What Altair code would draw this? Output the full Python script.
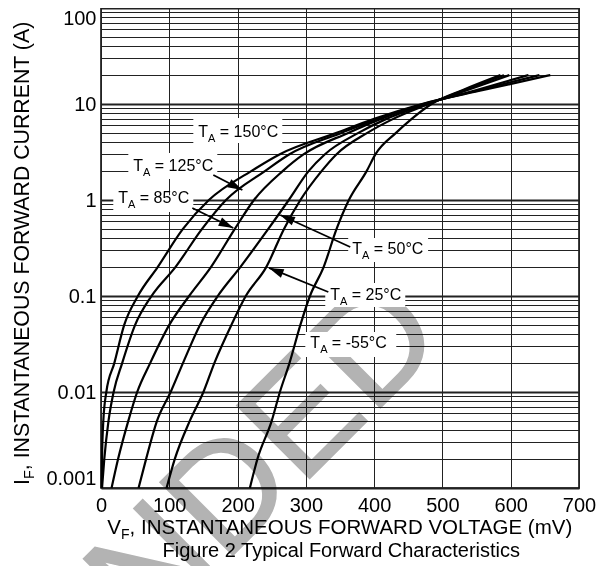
import math
import altair as alt
import pandas as pd

FONT = "Liberation Sans"
W, H = 478, 480

# ---- curve data: forward voltage (mV) read at these currents (A) ----
current = [0.001, 0.002, 0.005, 0.01, 0.02, 0.05, 0.1, 0.2, 0.5, 1, 2, 3, 5, 7, 10, 14, 20]
v_150 = [1, 1.5, 3.4, 7.8, 19.5, 34, 54, 83, 120, 158, 220, 262, 345, 400, 470, 560, 658]
v_125 = [1.5, 4.8, 11, 18.5, 31, 50, 74, 109, 148, 183, 240, 276, 352, 405, 472, 555, 642]
v_85 = [15.5, 25, 40, 53, 72, 100, 129, 161, 196, 224, 266, 297, 362, 410, 475, 550, 626]
v_50 = [55, 66, 82, 102, 120, 145, 171, 204, 245, 275, 304, 328, 377, 418, 478, 537, 598]
v_25 = [96, 108, 130, 150, 166, 191, 212, 242, 268, 292, 323, 345, 390, 428, 480, 532, 590]
v_m55 = [218, 229, 250, 262, 276, 292, 306, 326, 345, 363, 389, 402, 432, 455, 484, 530, 585]
series_names = ["150", "125", "85", "50", "25", "-55"]
series_values = [v_150, v_125, v_85, v_50, v_25, v_m55]

# ---- axes ----
x_ticks = [0, 100, 200, 300, 400, 500, 600, 700]
y_decades = [0.001, 0.01, 0.1, 1, 10, 100]
y_labels = ["0.001", "0.01", "0.1", "1", "10", "100"]
y_grid = sorted(set([round(m * d, 6) for d in y_decades[:-1] for m in range(1, 10)] + [100]))

# ---- labels T_A = ... ----
lab_text = ["= 150°C", "= 125°C", "= 85°C", "= 50°C", "= 25°C", "= -55°C"]
lab_v = [142.5, 47.3, 25.3, 368, 335.7, 306.6]
lab_i = [4.53, 2.00, 0.925, 0.274, 0.0908, 0.0287]
box_v1 = [135.2, 40.0, 18.0, 362, 328.4, 299.2]
box_v2 = [265.5, 170.3, 135.2, 479, 445.6, 432.4]
box_i1 = [7.15, 3.09, 1.12, 0.402, 0.1365, 0.0422]
box_i2 = [3.93, 1.65, 0.75, 0.226, 0.0767, 0.0232]
# arrows (125, 85, 50, 25)
arr_from_v = [164.5, 133.7, 365, 332.9]
arr_from_i = [1.82, 0.826, 0.324, 0.110]
arr_to_v = [207, 193.7, 262.5, 246]
arr_to_i = [1.27, 0.511, 0.698, 0.196]

# watermark
wm_text = ["RECOMMENDED"]
wm_v = [508.6]
wm_i = [0.0348]

# ---- build tables ----
rows = []
for name, vs in zip(series_names, series_values):
    for i, v in zip(current, vs):
        rows.append({"series": name, "v": v, "i": i})
curves = pd.DataFrame(rows)

labels = pd.DataFrame({"v": lab_v, "i": lab_i, "rest": lab_text})
boxes = pd.DataFrame({"v1": box_v1, "v2": box_v2, "i1": box_i1, "i2": box_i2})

px_mv = W / 700.0
px_dec = H / 5.0
angles = []
for fv, fi, tv, ti in zip(arr_from_v, arr_from_i, arr_to_v, arr_to_i):
    dx = (tv - fv) * px_mv
    dy = -(math.log10(ti) - math.log10(fi)) * px_dec
    angles.append(math.degrees(math.atan2(dx, -dy)) % 360)
arrows = pd.DataFrame({"v": arr_from_v, "i": arr_from_i, "v2": arr_to_v, "i2": arr_to_i})
heads = pd.DataFrame({"v": arr_to_v, "i": arr_to_i, "ang": angles})
wm = pd.DataFrame({"v": wm_v, "i": wm_i, "t": wm_text})

decade_test = " || ".join(f"datum.value == {d}" for d in y_decades)
label_expr = " : ".join(f"datum.value == {d} ? '{s}'" for d, s in zip(y_decades, y_labels)) + " : ''"

xs = alt.Scale(domain=[0, 700], nice=False, zero=False)
ys = alt.Scale(type="log", domain=[0.001, 100], nice=False)

xaxis = alt.Axis(values=x_ticks, grid=True, gridColor="#222222", gridWidth=1, ticks=False,
                 tickSize=0, domain=False, labelFont=FONT, labelFontSize=20,
                 labelColor="black", labelPadding=7, labelFlush=False, title=None)
yaxis = alt.Axis(values=y_grid, grid=True, gridColor="#222222",
                 gridWidth={"condition": {"test": decade_test, "value": 2}, "value": 1},
                 ticks=False, tickSize=0, domain=False, labelExpr=label_expr,
                 labelFont=FONT, labelFontSize=20, labelColor="black", labelPadding=5,
                 labelFlush=True, labelOverlap=False, title=None)


def X(f):
    return alt.X(f, scale=xs, axis=xaxis, title=None)


def Y(f):
    return alt.Y(f, scale=ys, axis=yaxis, title=None)


layers = []

layers.append(alt.Chart(wm).mark_text(angle=315, align="right", baseline="alphabetic",
                                      fontSize=150, font=FONT, color="#b3b3b3",
                                      stroke="#b3b3b3", strokeWidth=1.5,
                                      blend="multiply")
              .encode(x=X("v:Q"), y=Y("i:Q"), text="t:N"))

layers.append(alt.Chart(boxes).mark_rect(color="white", opacity=1)
              .encode(x=X("v1:Q"), x2="v2:Q", y=Y("i1:Q"), y2="i2:Q"))

layers.append(alt.Chart(curves).mark_line(color="black", strokeWidth=2.2, interpolate="monotone")
              .encode(x=X("v:Q"), y=Y("i:Q"), detail="series:N"))

layers.append(alt.Chart(arrows).mark_rule(color="black", strokeWidth=1.8)
              .encode(x=X("v:Q"), y=Y("i:Q"), x2="v2:Q", y2="i2:Q"))

layers.append(alt.Chart(heads).mark_point(shape="M0,0L0.65,2.1L-0.65,2.1Z", size=196,
                                          filled=True, color="black", opacity=1, strokeWidth=0)
              .encode(x=X("v:Q"), y=Y("i:Q"), angle=alt.Angle("ang:Q", scale=None)))

# T_A labels: "T", subscript "A", rest
layers.append(alt.Chart(labels).mark_text(align="left", baseline="alphabetic", fontSize=16,
                                          font=FONT, color="black", text="T")
              .encode(x=X("v:Q"), y=Y("i:Q")))
layers.append(alt.Chart(labels).mark_text(align="left", baseline="alphabetic", fontSize=11,
                                          font=FONT, color="black", text="A", dx=9.8, dy=5)
              .encode(x=X("v:Q"), y=Y("i:Q")))
layers.append(alt.Chart(labels).mark_text(align="left", baseline="alphabetic", fontSize=16,
                                          font=FONT, color="black", dx=21.5)
              .encode(x=X("v:Q"), y=Y("i:Q"), text="rest:N"))

# axis titles with subscripts
one = pd.DataFrame({"k": [0]})
x_title = [("V", 0, 0, 20.5), ("F", 13.7, 5, 14), (", INSTANTANEOUS FORWARD VOLTAGE (mV)", 22.3, 0, 20.5)]
for txt, dx, dy, fs in x_title:
    layers.append(alt.Chart(one).mark_text(align="left", baseline="alphabetic", fontSize=fs,
                                           font=FONT, color="black", text=txt, dx=dx, dy=dy)
                  .encode(x=alt.value(6.3), y=alt.value(526)))
y_title = [("I", 0, 0, 21.3), ("F", 5.9, 5, 14.5), (", INSTANTANEOUS FORWARD CURRENT (A)", 14.8, 0, 21.3)]
for txt, dx, dy, fs in y_title:
    layers.append(alt.Chart(one).mark_text(align="left", baseline="alphabetic", fontSize=fs,
                                           font=FONT, color="black", text=txt, dx=dx, dy=dy,
                                           angle=270)
                  .encode(x=alt.value(-71.7), y=alt.value(477)))
layers.append(alt.Chart(one).mark_text(align="center", baseline="alphabetic", fontSize=20,
                                       font=FONT, color="black",
                                       text="Figure 2 Typical Forward Characteristics")
              .encode(x=alt.value(240.3), y=alt.value(549)))

chart = (alt.layer(*layers)
         .properties(width=W, height=H,
                     padding={"left": 93, "top": 0, "right": 20, "bottom": 90},
                     autosize=alt.AutoSizeParams(type="none"), background="white")
         .configure_view(stroke="black", strokeWidth=1.5))

chart.save("out.html", embed_options={"renderer": "svg", "actions": False})
